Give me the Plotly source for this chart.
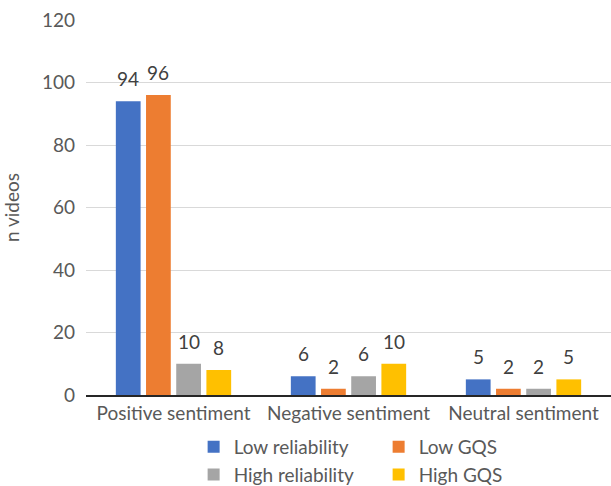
import plotly.graph_objects as go

categories = ["Positive sentiment", "Negative sentiment", "Neutral sentiment"]
series_names = ["Low reliability", "Low GQS", "High reliability", "High GQS"]
low_reliability = [94, 6, 5]
low_gqs = [96, 2, 2]
high_reliability = [10, 6, 2]
high_gqs = [8, 10, 5]
y_ticks = [0, 20, 40, 60, 80, 100, 120]

colors = ["#4472C4", "#ED7D31", "#A5A5A5", "#FFC000"]
text_color = "#595959"
label_color = "#404040"
font_family = "Lato, 'Open Sans', sans-serif"

bargap = 0.31
bargroupgap = 0.18
all_series = [low_reliability, low_gqs, high_reliability, high_gqs]
n_series = len(all_series)
slot = (1 - bargap) / n_series

fig = go.Figure()
for name, vals, col in zip(series_names, all_series, colors):
    fig.add_trace(go.Bar(
        x=categories, y=vals, name=name,
        marker=dict(color=col, line=dict(width=0)),
    ))

# value labels above each bar, placed at the bar's centre within its group
for k, vals in enumerate(all_series):
    for i, v in enumerate(vals):
        fig.add_annotation(
            x=i + (k - (n_series - 1) / 2) * slot, y=v,
            xref="x", yref="y", text=str(v), showarrow=False,
            yanchor="bottom", yshift=9,
            font=dict(size=19, color=label_color, family=font_family),
        )

fig.update_layout(
    width=611, height=486,
    margin=dict(l=86, r=0, t=20, b=91, autoexpand=False),
    paper_bgcolor="white", plot_bgcolor="white",
    barmode="group", bargap=bargap, bargroupgap=bargroupgap,
    font=dict(family=font_family, color=text_color, size=19),
    showlegend=True,
    legend=dict(
        orientation="h", x=0.205, xanchor="left", y=-0.088, yanchor="top",
        entrywidth=140, entrywidthmode="pixels",
        font=dict(size=19, color=text_color), itemsizing="constant",
        itemwidth=30,
    ),
    xaxis=dict(
        showline=True, linecolor="#262626", linewidth=1.5,
        ticks="", tickfont=dict(size=19, color=text_color),
        showgrid=False,
    ),
    yaxis=dict(
        range=[0, 120], tickvals=y_ticks, showgrid=True,
        gridcolor="#D9D9D9", gridwidth=1, zeroline=False, showline=False,
        tickfont=dict(size=19, color=text_color), ticklabelstandoff=10,
        title=dict(text="n videos", font=dict(size=19, color=text_color), standoff=20),
    ),
)

fig.write_html("out.html")
